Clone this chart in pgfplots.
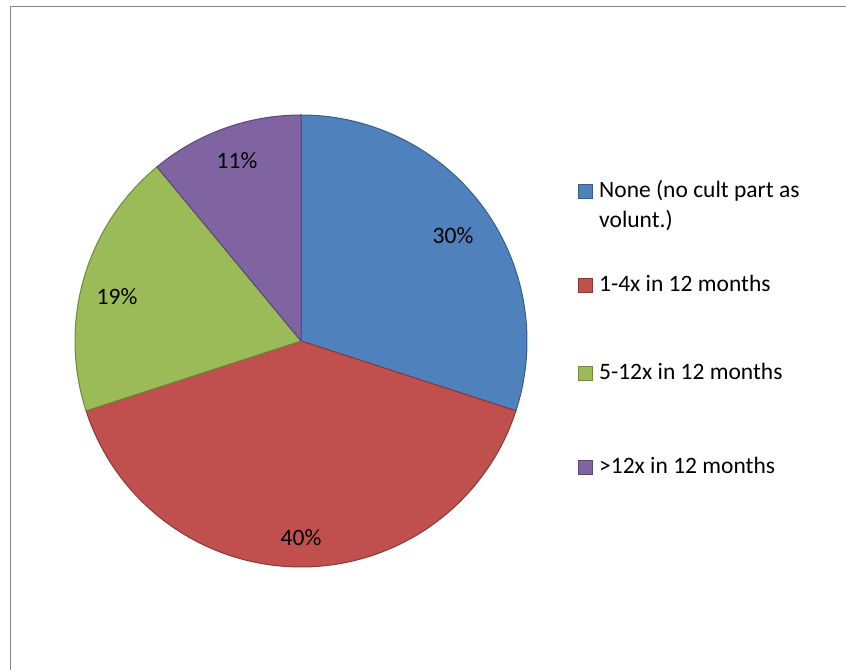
\documentclass[border=0pt]{standalone}
\usepackage{fontspec}
\setmainfont{Carlito}
\usepackage{pgfplots}
\pgfplotsset{compat=1.18}
\definecolor{cA}{HTML}{4F81BD}\definecolor{cAd}{HTML}{385D8A}
\definecolor{cB}{HTML}{C0504D}\definecolor{cBd}{HTML}{8C3836}
\definecolor{cC}{HTML}{9BBB59}\definecolor{cCd}{HTML}{71893F}
\definecolor{cD}{HTML}{8064A2}\definecolor{cDd}{HTML}{5C4776}
\definecolor{frame}{HTML}{868686}
% values (percent)
\def\vA{30}\def\vB{40}\def\vC{19}\def\vD{11}
\def\cx{301}\def\cy{329}\def\r{226}
\begin{document}
\fontsize{23.5bp}{30bp}\selectfont
\begin{tikzpicture}
\pgfmathsetmacro{\aA}{90}
\pgfmathsetmacro{\aB}{\aA-3.6*\vA}
\pgfmathsetmacro{\aC}{\aB-3.6*\vB}
\pgfmathsetmacro{\aD}{\aC-3.6*\vC}
\pgfmathsetmacro{\aE}{\aD-3.6*\vD}
\begin{axis}[width=846bp, height=670bp, scale only axis,
  xmin=0, xmax=846, ymin=0, ymax=670, hide axis, clip=true]
\path (0,0) rectangle (846,670);
\draw[frame, line width=1.5bp] (10.5,-20) -- (10.5,663.5) -- (900,663.5);
\addplot[fill=cA, draw=cAd, line width=1bp, domain=\aB:\aA, samples=90, variable=\t]
  ({\cx+\r*cos(\t)},{\cy+\r*sin(\t)}) -- (\cx,\cy) -- cycle;
\addplot[fill=cB, draw=cBd, line width=1bp, domain=\aC:\aB, samples=120, variable=\t]
  ({\cx+\r*cos(\t)},{\cy+\r*sin(\t)}) -- (\cx,\cy) -- cycle;
\addplot[fill=cC, draw=cCd, line width=1bp, domain=\aD:\aC, samples=70, variable=\t]
  ({\cx+\r*cos(\t)},{\cy+\r*sin(\t)}) -- (\cx,\cy) -- cycle;
\addplot[fill=cD, draw=cDd, line width=1bp, domain=\aE:\aD, samples=50, variable=\t]
  ({\cx+\r*cos(\t)},{\cy+\r*sin(\t)}) -- (\cx,\cy) -- cycle;
% data labels
\node at (453,434) {30\%};
\node at (301,132) {40\%};
\node at (117,373) {19\%};
\node at (237,509) {11\%};
% legend
\filldraw[fill=cA, draw=cAd, line width=1bp] (578.5,471) rectangle (592.5,485);
\node[anchor=base west, inner sep=0pt] at (599,472) {None (no cult part as};
\node[anchor=base west, inner sep=0pt] at (599,442) {volunt.)};
\filldraw[fill=cB, draw=cBd, line width=1bp] (578.5,377) rectangle (592.5,391);
\node[anchor=base west, inner sep=0pt] at (599,378) {1-4x in 12 months};
\filldraw[fill=cC, draw=cCd, line width=1bp] (578.5,289) rectangle (592.5,303);
\node[anchor=base west, inner sep=0pt] at (599,290) {5-12x in 12 months};
\filldraw[fill=cD, draw=cDd, line width=1bp] (578.5,195) rectangle (592.5,209);
\node[anchor=base west, inner sep=0pt] at (599,196) {>12x in 12 months};
\end{axis}
\end{tikzpicture}
\end{document}
